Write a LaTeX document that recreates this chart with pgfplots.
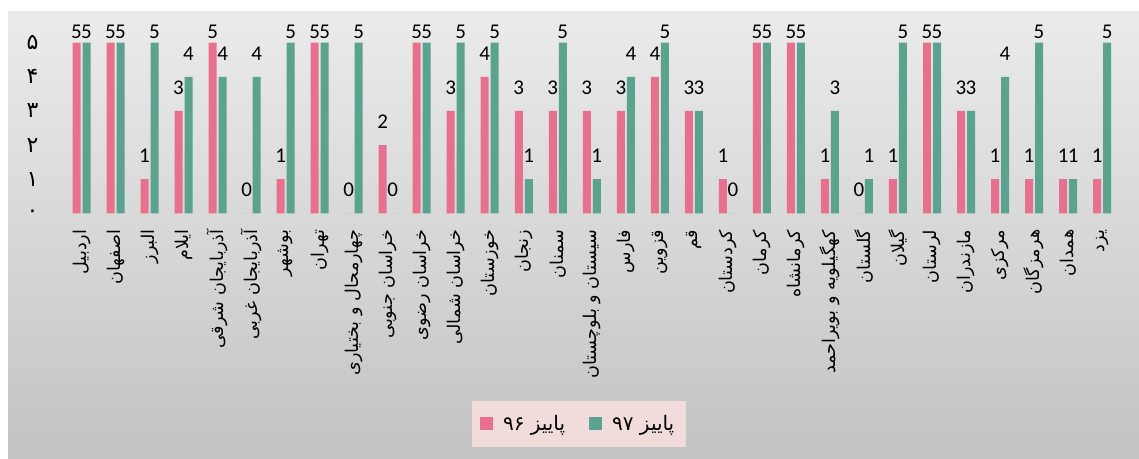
\documentclass[border=0pt]{standalone}
\usepackage{pgfplots}
\usepackage{pgfplotstable}
\pgfplotsset{compat=1.18}
\usepackage{fontspec}
\setmainfont{Carlito}
\newfontfamily\arabicfont[Script=Arabic]{DejaVu Sans}
\TeXXeTstate=1

\definecolor{pinkbar}{HTML}{E8708F}
\definecolor{tealbar}{HTML}{5BA38E}
\definecolor{bgtop}{HTML}{EBEBEB}
\definecolor{bgbot}{HTML}{C3C3C3}
\definecolor{legfill}{HTML}{F2DCDB}

% province, autumn 96, autumn 97
\pgfplotstableread{
x p96 p97
1 5 5
2 5 5
3 1 5
4 3 4
5 5 4
6 0 4
7 1 5
8 5 5
9 0 5
10 2 0
11 5 5
12 3 5
13 4 5
14 3 1
15 3 5
16 3 1
17 3 4
18 4 5
19 3 3
20 1 0
21 5 5
22 5 5
23 1 3
24 0 1
25 1 5
26 5 5
27 3 3
28 1 4
29 1 5
30 1 1
31 1 5
}\scores

\begin{document}
\begin{tikzpicture}
  \path[use as bounding box] (0pt,0pt) rectangle (569.5pt,229.5pt);
  \fill[top color=bgtop, bottom color=bgbot] (4pt,0pt) rectangle (569.5pt,223.5pt);
  \begin{axis}[
    at={(32.25pt,122.85pt)}, anchor=south west,
    scale only axis, width=527.3pt, height=85.3pt,
    xmin=0.5, xmax=31.5, ymin=0, ymax=5,
    ybar=1pt, bar width=4pt,
    axis line style={draw=none},
    major tick length=0pt,
    clip=false,
    /pgf/number format/assume math mode=true,
    xtick={1,...,31},
    xticklabels={
      {\beginR اردبیل\endR}, {\beginR اصفهان\endR}, {\beginR البرز\endR}, {\beginR ایلام\endR},
      {\beginR آذربایجان شرقی\endR}, {\beginR آذربایجان غربی\endR}, {\beginR بوشهر\endR}, {\beginR تهران\endR},
      {\beginR چهارمحال و بختیاری\endR}, {\beginR خراسان جنوبی\endR}, {\beginR خراسان رضوی\endR},
      {\beginR خراسان شمالی\endR}, {\beginR خوزستان\endR}, {\beginR زنجان\endR}, {\beginR سمنان\endR},
      {\beginR سیستان و بلوچستان\endR}, {\beginR فارس\endR}, {\beginR قزوین\endR}, {\beginR قم\endR},
      {\beginR کردستان\endR}, {\beginR کرمان\endR}, {\beginR کرمانشاه\endR}, {\beginR کهگیلویه و بویراحمد\endR},
      {\beginR گلستان\endR}, {\beginR گیلان\endR}, {\beginR لرستان\endR}, {\beginR مازندران\endR},
      {\beginR مرکزی\endR}, {\beginR هرمزگان\endR}, {\beginR همدان\endR}, {\beginR یزد\endR}},
    xticklabel shift=8pt,
    xticklabel style={rotate=90, anchor=east, inner sep=0pt,
      font=\arabicfont\fontsize{8.8}{10}\selectfont},
    ytick={0,...,5},
    yticklabels={۰,۱,۲,۳,۴,۵},
    yticklabel style={anchor=center, xshift=-16pt,
      font=\arabicfont\fontsize{11}{12}\selectfont},
    nodes near coords,
    visualization depends on={rawy \as \rawy},
    every node near coord/.append style={anchor=center, inner sep=0pt, black,
      font=\fontsize{10.5}{12}\selectfont,
      yshift={ifthenelse(\rawy>4.5,5.5,11.75)*1pt}},
    legend style={at={(0.488,-1.235)}, anchor=center, fill=legfill, draw=none,
      legend columns=2, font=\arabicfont\fontsize{10}{12}\selectfont,
      inner xsep=4pt, inner ysep=5pt, column sep=3pt,
      /tikz/every even column/.append style={column sep=10pt}},
    legend image code/.code={\fill[#1] (0pt,-3.25pt) rectangle (6.5pt,3.25pt);},
  ]
    \addplot[fill=pinkbar, draw=none] table[x=x, y=p96] {\scores};
    \addlegendentry{\beginR پاییز \beginL۹۶\endL\endR}
    \addplot[fill=tealbar, draw=none] table[x=x, y=p97] {\scores};
    \addlegendentry{\beginR پاییز \beginL۹۷\endL\endR}
  \end{axis}
\end{tikzpicture}
\end{document}
